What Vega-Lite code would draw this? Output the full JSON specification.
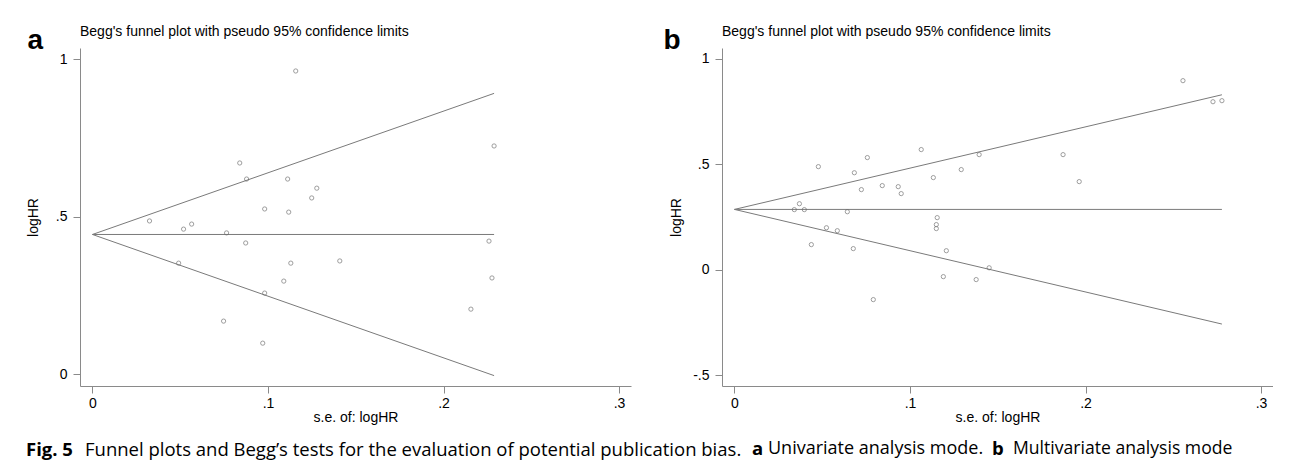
{
  "$schema": "https://vega.github.io/schema/vega-lite/v6.json",
  "background": "white",
  "padding": {"left": 26, "top": 25, "right": 0, "bottom": 0},
  "config": {"view": {"stroke": null}, "font": "Liberation Sans"},
  "datasets": {
    "pointsA": [
      {"se": 0.0325, "logHR": 0.486}, {"se": 0.0519, "logHR": 0.46}, {"se": 0.0565, "logHR": 0.476},
      {"se": 0.0764, "logHR": 0.448}, {"se": 0.0839, "logHR": 0.67}, {"se": 0.0878, "logHR": 0.619},
      {"se": 0.0981, "logHR": 0.524}, {"se": 0.1112, "logHR": 0.619}, {"se": 0.1118, "logHR": 0.514},
      {"se": 0.1158, "logHR": 0.962}, {"se": 0.1249, "logHR": 0.559}, {"se": 0.1278, "logHR": 0.59},
      {"se": 0.2288, "logHR": 0.724}, {"se": 0.2259, "logHR": 0.422}, {"se": 0.0873, "logHR": 0.416},
      {"se": 0.0491, "logHR": 0.352}, {"se": 0.113, "logHR": 0.352}, {"se": 0.109, "logHR": 0.295},
      {"se": 0.0981, "logHR": 0.257}, {"se": 0.0747, "logHR": 0.168}, {"se": 0.097, "logHR": 0.098},
      {"se": 0.1409, "logHR": 0.359}, {"se": 0.2276, "logHR": 0.305}, {"se": 0.2156, "logHR": 0.206}
    ],
    "funnelA": [
      {"se": 0, "limit": 0.443, "bound": "upper"}, {"se": 0.2288, "limit": 0.891, "bound": "upper"},
      {"se": 0, "limit": 0.443, "bound": "lower"}, {"se": 0.2288, "limit": -0.005, "bound": "lower"},
      {"se": 0, "limit": 0.443, "bound": "mid"}, {"se": 0.2288, "limit": 0.443, "bound": "mid"}
    ],
    "pointsB": [
      {"se": 0.0341, "logHR": 0.285}, {"se": 0.037, "logHR": 0.313}, {"se": 0.0398, "logHR": 0.285},
      {"se": 0.0478, "logHR": 0.489}, {"se": 0.0524, "logHR": 0.199}, {"se": 0.0586, "logHR": 0.185},
      {"se": 0.0643, "logHR": 0.275}, {"se": 0.0683, "logHR": 0.46}, {"se": 0.0723, "logHR": 0.38},
      {"se": 0.0757, "logHR": 0.532}, {"se": 0.0842, "logHR": 0.399}, {"se": 0.0933, "logHR": 0.394},
      {"se": 0.095, "logHR": 0.361}, {"se": 0.1064, "logHR": 0.57}, {"se": 0.1133, "logHR": 0.437},
      {"se": 0.1155, "logHR": 0.247}, {"se": 0.115, "logHR": 0.214}, {"se": 0.115, "logHR": 0.195},
      {"se": 0.1292, "logHR": 0.475}, {"se": 0.1394, "logHR": 0.546}, {"se": 0.1872, "logHR": 0.546},
      {"se": 0.1964, "logHR": 0.418}, {"se": 0.2555, "logHR": 0.897}, {"se": 0.2726, "logHR": 0.797},
      {"se": 0.2777, "logHR": 0.802}, {"se": 0.0438, "logHR": 0.119}, {"se": 0.0677, "logHR": 0.1},
      {"se": 0.0791, "logHR": -0.142}, {"se": 0.1207, "logHR": 0.09}, {"se": 0.119, "logHR": -0.033},
      {"se": 0.1377, "logHR": -0.047}, {"se": 0.1451, "logHR": 0.009}
    ],
    "funnelB": [
      {"se": 0, "limit": 0.286, "bound": "upper"}, {"se": 0.2777, "limit": 0.83, "bound": "upper"},
      {"se": 0, "limit": 0.286, "bound": "lower"}, {"se": 0.2777, "limit": -0.258, "bound": "lower"},
      {"se": 0, "limit": 0.286, "bound": "mid"}, {"se": 0.2777, "limit": 0.286, "bound": "mid"}
    ]
  },
  "title": {"text": "Multivariate analysis mode", "orient": "bottom", "anchor": "start", "font": "Open Sans", "fontSize": 17.6, "fontWeight": "normal", "color": "black", "dx": 987, "dy": -19.5, "offset": 0},
  "vconcat": [
    {
      "title": {"text": "b", "orient": "bottom", "anchor": "start", "font": "Open Sans", "fontSize": 18.5, "fontWeight": "bold", "color": "black", "dx": 966, "dy": -19.5, "offset": 0},
      "vconcat": [
        {
          "title": {"text": "Univariate analysis mode.", "orient": "bottom", "anchor": "start", "font": "Open Sans", "fontSize": 18, "fontWeight": "normal", "color": "black", "dx": 742, "dy": -19.5, "offset": 0},
          "vconcat": [
            {
              "title": {"text": "a", "orient": "bottom", "anchor": "start", "font": "Open Sans", "fontSize": 18.5, "fontWeight": "bold", "color": "black", "dx": 726, "dy": -19.5, "offset": 0},
              "vconcat": [
                {
                  "title": {"text": "Funnel plots and Begg’s tests for the evaluation of potential publication bias.", "orient": "bottom", "anchor": "start", "font": "Open Sans", "fontSize": 18.5, "fontWeight": "normal", "color": "black", "dx": 59, "dy": -18.5, "offset": 0},
                  "vconcat": [
                    {
                      "title": {"text": "Fig. 5", "orient": "bottom", "anchor": "start", "font": "Open Sans", "fontSize": 18.5, "fontWeight": "bold", "color": "black", "offset": 17},
                      "spacing": 32,
                      "hconcat": [
                        {
                          "width": 551, "height": 338,
                          "title": {"text": "Begg's funnel plot with pseudo 95% confidence limits", "anchor": "start", "frame": "group", "font": "Liberation Sans", "fontSize": 14, "fontWeight": "normal", "color": "black", "baseline": "alphabetic", "offset": -24},
                          "resolve": {"axis": {"x": "independent"}},
                          "layer": [
                            {
                              "data": {"name": "funnelA"},
                              "mark": {"type": "line", "color": "#7a7a7a", "strokeWidth": 1},
                              "encoding": {
                                "x": {"field": "se", "type": "quantitative", "scale": {"domain": [-0.0071, 0.3068], "nice": false, "zero": false},
                                  "axis": {"orient": "bottom", "values": [0, 0.1, 0.2, 0.3], "labelExpr": "replace(datum.value + '', '0.', '.')", "title": "s.e. of: logHR", "titleFont": "Liberation Sans", "titleFontSize": 14, "titleFontWeight": "normal", "titleColor": "black", "labelFont": "Liberation Sans", "labelFontSize": 14, "labelColor": "black", "labelPadding": 3, "titlePadding": 0, "tickSize": 7, "tickColor": "#8a8a8a", "domainColor": "#8a8a8a", "grid": false, "labelFlush": false}},
                                "y": {"field": "limit", "type": "quantitative", "scale": {"domain": [-0.038, 1.035], "nice": false, "zero": false},
                                  "axis": {"values": [0, 0.5, 1], "labelExpr": "replace(datum.value + '', '0.', '.')", "title": "logHR", "titleFont": "Liberation Sans", "titleFontSize": 14, "titleFontWeight": "normal", "titleColor": "black", "titleX": -43, "titleY": 169, "titleAlign": "center", "titleBaseline": "alphabetic", "titleAngle": 270, "labelFont": "Liberation Sans", "labelFontSize": 14, "labelColor": "black", "labelPadding": 6, "tickSize": 7, "tickColor": "#8a8a8a", "domainColor": "#8a8a8a", "grid": false, "labelFlush": false}},
                                "detail": {"field": "bound"}
                              }
                            },
                            {
                              "data": {"name": "pointsA"},
                              "mark": {"type": "point", "shape": "circle", "filled": false, "size": 18, "color": "#666666", "strokeWidth": 0.9},
                              "encoding": {
                                "x": {"field": "se", "type": "quantitative", "scale": {"domain": [-0.0071, 0.3068], "nice": false, "zero": false},
                                  "axis": {"orient": "top", "title": "a", "labels": false, "ticks": false, "domain": false, "grid": false, "titleFont": "Liberation Sans", "titleFontSize": 28, "titleFontWeight": "bold", "titleColor": "black", "titleX": -53, "titleY": 0, "titleAlign": "left", "titleBaseline": "alphabetic", "titleAngle": 0}},
                                "y": {"field": "logHR", "type": "quantitative", "scale": {"domain": [-0.038, 1.035], "nice": false, "zero": false},
                                  "axis": {"values": [0, 0.5, 1], "labelExpr": "replace(datum.value + '', '0.', '.')", "title": "logHR", "titleFont": "Liberation Sans", "titleFontSize": 14, "titleFontWeight": "normal", "titleColor": "black", "titleX": -43, "titleY": 169, "titleAlign": "center", "titleBaseline": "alphabetic", "titleAngle": 270, "labelFont": "Liberation Sans", "labelFontSize": 14, "labelColor": "black", "labelPadding": 6, "tickSize": 7, "tickColor": "#8a8a8a", "domainColor": "#8a8a8a", "grid": false, "labelFlush": false}}
                              }
                            }
                          ]
                        },
                        {
                          "width": 551, "height": 338,
                          "title": {"text": "Begg's funnel plot with pseudo 95% confidence limits", "anchor": "start", "frame": "group", "font": "Liberation Sans", "fontSize": 14, "fontWeight": "normal", "color": "black", "baseline": "alphabetic", "offset": -24},
                          "resolve": {"axis": {"x": "independent"}},
                          "layer": [
                            {
                              "data": {"name": "funnelB"},
                              "mark": {"type": "line", "color": "#7a7a7a", "strokeWidth": 1},
                              "encoding": {
                                "x": {"field": "se", "type": "quantitative", "scale": {"domain": [-0.0071, 0.3068], "nice": false, "zero": false},
                                  "axis": {"orient": "bottom", "values": [0, 0.1, 0.2, 0.3], "labelExpr": "replace(datum.value + '', '0.', '.')", "title": "s.e. of: logHR", "titleFont": "Liberation Sans", "titleFontSize": 14, "titleFontWeight": "normal", "titleColor": "black", "labelFont": "Liberation Sans", "labelFontSize": 14, "labelColor": "black", "labelPadding": 3, "titlePadding": 0, "tickSize": 7, "tickColor": "#8a8a8a", "domainColor": "#8a8a8a", "grid": false, "labelFlush": false}},
                                "y": {"field": "limit", "type": "quantitative", "scale": {"domain": [-0.552, 1.052], "nice": false, "zero": false},
                                  "axis": {"values": [-0.5, 0, 0.5, 1], "labelExpr": "replace(datum.value + '', '0.', '.')", "title": "logHR", "titleFont": "Liberation Sans", "titleFontSize": 14, "titleFontWeight": "normal", "titleColor": "black", "titleX": -42, "titleY": 169, "titleAlign": "center", "titleBaseline": "alphabetic", "titleAngle": 270, "labelFont": "Liberation Sans", "labelFontSize": 14, "labelColor": "black", "labelPadding": 6, "tickSize": 7, "tickColor": "#8a8a8a", "domainColor": "#8a8a8a", "grid": false, "labelFlush": false}},
                                "detail": {"field": "bound"}
                              }
                            },
                            {
                              "data": {"name": "pointsB"},
                              "mark": {"type": "point", "shape": "circle", "filled": false, "size": 18, "color": "#666666", "strokeWidth": 0.9},
                              "encoding": {
                                "x": {"field": "se", "type": "quantitative", "scale": {"domain": [-0.0071, 0.3068], "nice": false, "zero": false},
                                  "axis": {"orient": "top", "title": "b", "labels": false, "ticks": false, "domain": false, "grid": false, "titleFont": "Liberation Sans", "titleFontSize": 28, "titleFontWeight": "bold", "titleColor": "black", "titleX": -59, "titleY": 0, "titleAlign": "left", "titleBaseline": "alphabetic", "titleAngle": 0}},
                                "y": {"field": "logHR", "type": "quantitative", "scale": {"domain": [-0.552, 1.052], "nice": false, "zero": false},
                                  "axis": {"values": [-0.5, 0, 0.5, 1], "labelExpr": "replace(datum.value + '', '0.', '.')", "title": "logHR", "titleFont": "Liberation Sans", "titleFontSize": 14, "titleFontWeight": "normal", "titleColor": "black", "titleX": -42, "titleY": 169, "titleAlign": "center", "titleBaseline": "alphabetic", "titleAngle": 270, "labelFont": "Liberation Sans", "labelFontSize": 14, "labelColor": "black", "labelPadding": 6, "tickSize": 7, "tickColor": "#8a8a8a", "domainColor": "#8a8a8a", "grid": false, "labelFlush": false}}
                              }
                            }
                          ]
                        }
                      ]
                    }
                  ]
                }
              ]
            }
          ]
        }
      ]
    }
  ]
}
